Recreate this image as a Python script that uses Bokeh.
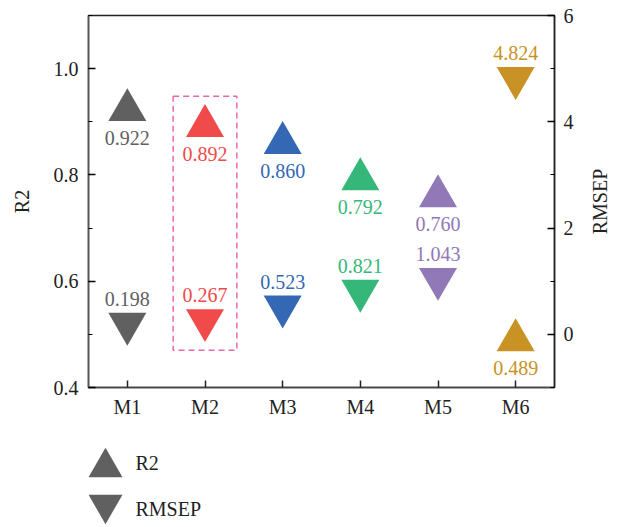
import math
from bokeh.plotting import figure
from bokeh.models import (Range1d, FactorRange, LinearAxis, SingleIntervalTicker,
                          PrintfTickFormatter, ColumnDataSource)
from bokeh.layouts import column, row
from bokeh.core.properties import value
from bokeh.embed import file_html
from bokeh.resources import INLINE

# ---- data ----
models = ["M1", "M2", "M3", "M4", "M5", "M6"]
r2 = [0.922, 0.892, 0.860, 0.792, 0.760, 0.489]
rmsep = [0.198, 0.267, 0.523, 0.821, 1.043, 4.824]
colors = ["#606060", "#f04a4a", "#3468b4", "#35b779", "#9178b6", "#c89224"]
r2_labels = ["%.3f" % v for v in r2]
rmsep_labels = ["%.3f" % v for v in rmsep]
highlight = "M2"
box_top, box_bottom = 0.948, 0.470
legend_names = ["R2", "RMSEP"]
right_title = "RMSEP"

FONT = "Liberation Serif"
FS = "20px"

src = ColumnDataSource(dict(m=models, r2=r2, rmsep=rmsep, c=colors,
                            r2l=r2_labels, rml=rmsep_labels))

BL, BT, BB = 88, 15, 41
W_TOTAL = 611
TW = 23                 # width of the strip holding the right axis title
W = W_TOTAL - TW        # main figure width
BR = W - BL - 466       # frame width 466
H = 428

p = figure(width=W, height=H, x_range=FactorRange(factors=models),
           y_range=Range1d(0.4, 1.1), output_backend="svg", toolbar_location=None,
           min_border_left=BL, min_border_right=BR, min_border_top=BT, min_border_bottom=BB)
p.extra_y_ranges = {"rmsep": Range1d(-1, 6)}
p.grid.visible = False
p.outline_line_color = "#222222"
p.outline_line_width = 1.5
p.background_fill_color = "white"
p.border_fill_color = "white"

# highlight box
p.rect(x=[highlight], y=[(box_top + box_bottom) / 2], width=0.82, height=box_top - box_bottom,
       fill_color=None, line_color="#e868b0", line_dash="6 4", line_width=1.5)

# markers
p.scatter("m", "r2", source=src, marker="triangle", size=38, fill_color="c", line_color="c", line_width=0)
p.scatter("m", "rmsep", source=src, marker="inverted_triangle", size=38, fill_color="c",
          line_color="c", line_width=0, y_range_name="rmsep")

# value labels
p.text("m", "r2", text="r2l", source=src, text_color="c", text_align="center",
       text_baseline="middle", y_offset=28, text_font=value(FONT), text_font_size=FS)
p.text("m", "rmsep", text="rml", source=src, text_color="c", text_align="center",
       text_baseline="middle", y_offset=-25, text_font=value(FONT), text_font_size=FS,
       y_range_name="rmsep")

def style_axis(ax):
    ax.major_tick_in = 7
    ax.major_tick_out = 0
    ax.minor_tick_in = 4
    ax.minor_tick_out = 0
    ax.axis_line_width = 1.5
    ax.major_tick_line_width = 1.5
    ax.minor_tick_line_width = 1.2
    ax.major_label_text_font = FONT
    ax.major_label_text_font_size = FS
    ax.major_label_text_color = "#222222"
    ax.axis_label_text_font = FONT
    ax.axis_label_text_font_size = FS
    ax.axis_label_text_font_style = "normal"
    ax.axis_label_text_color = "#222222"

xa = p.xaxis[0]
style_axis(xa)
xa.axis_line_color = "#444444"
xa.major_tick_line_color = "#222222"
xa.major_label_standoff = 8

ya = p.yaxis[0]
ya.ticker = SingleIntervalTicker(interval=0.2, num_minor_ticks=2)
ya.formatter = PrintfTickFormatter(format="%.1f")
ya.axis_label = "R2"
style_axis(ya)
ya.axis_line_color = "#555555"
ya.major_label_standoff = 10
ya.axis_label_standoff = 18

ra = LinearAxis(y_range_name="rmsep",
                ticker=SingleIntervalTicker(interval=2, num_minor_ticks=2))
style_axis(ra)
ra.axis_line_color = "#222222"
ra.major_label_standoff = 9
p.add_layout(ra, "right")

# strip with the right axis title (reads bottom-to-top, centred on the frame)
tf = figure(width=TW, height=H, x_range=Range1d(0, 1), y_range=Range1d(0, 1),
            output_backend="svg", toolbar_location=None,
            min_border_left=0, min_border_right=0, min_border_top=BT, min_border_bottom=BB)
tf.axis.visible = False
tf.grid.visible = False
tf.outline_line_color = None
tf.background_fill_color = "white"
tf.border_fill_color = "white"
tf.text([0.5], [0.5], text=[right_title], angle=math.pi / 2, text_align="center",
        text_baseline="middle", text_font=value(FONT), text_font_size=FS, text_color="#222222")

# legend panel (pixel coordinates)
LH = 97
lg = figure(width=W_TOTAL, height=LH, x_range=Range1d(BL, BL + 466), y_range=Range1d(LH, 0),
            output_backend="svg", toolbar_location=None,
            min_border_left=BL, min_border_right=W_TOTAL - BL - 466, min_border_top=0, min_border_bottom=0)
lg.axis.visible = False
lg.grid.visible = False
lg.outline_line_color = None
lg.background_fill_color = "white"
lg.border_fill_color = "white"
lg.scatter([105], [39], marker="triangle", size=34, fill_color="#606060", line_width=0)
lg.scatter([105], [76], marker="inverted_triangle", size=34, fill_color="#606060", line_width=0)
lg.text([135, 135], [34, 80], text=legend_names, text_baseline="middle", text_align="left",
        text_font=value(FONT), text_font_size=FS, text_color="#222222")

layout = column(row(p, tf, spacing=0), lg, spacing=0)
open("out.html", "w").write(file_html(layout, INLINE))
